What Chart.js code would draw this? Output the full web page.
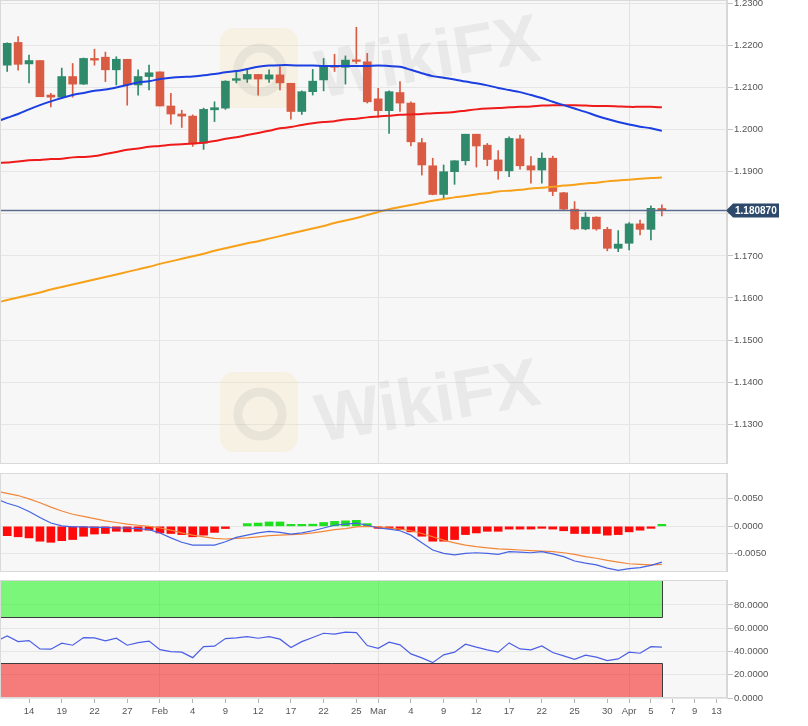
<!DOCTYPE html>
<html>
<head>
<meta charset="utf-8">
<script src="https://cdn.jsdelivr.net/npm/chart.js@4.4.0/dist/chart.umd.min.js"></script>
<style>
  body { margin: 0; background: #fff; width: 808px; height: 726px; overflow: hidden; position: relative; }
  canvas { position: absolute; left: 0; }
</style>
</head>
<body>
<canvas id="precio" width="808" height="464" style="top:0"></canvas>
<canvas id="macd" width="808" height="99" style="top:473px"></canvas>
<canvas id="rsi" width="808" height="146" style="top:580px"></canvas>
<script>
// dias de mercado (EUR/USD diario), los ultimos sin datos todavia
const fechas = ['Jan 11','Jan 12','Jan 13','Jan 14','Jan 15','Jan 18','Jan 19','Jan 20','Jan 21','Jan 22','Jan 25','Jan 26','Jan 27','Jan 28','Jan 29',
  'Feb 1','Feb 2','Feb 3','Feb 4','Feb 5','Feb 8','Feb 9','Feb 10','Feb 11','Feb 12','Feb 15','Feb 16','Feb 17','Feb 18','Feb 19','Feb 22','Feb 23','Feb 24','Feb 25','Feb 26',
  'Mar 1','Mar 2','Mar 3','Mar 4','Mar 5','Mar 8','Mar 9','Mar 10','Mar 11','Mar 12','Mar 15','Mar 16','Mar 17','Mar 18','Mar 19','Mar 22','Mar 23','Mar 24','Mar 25','Mar 26','Mar 29','Mar 30','Mar 31',
  'Apr 1','Apr 2','Apr 5','Apr 6','Apr 7','Apr 8','Apr 9','Apr 12','Apr 13','Apr 14'];

const apertura = [null,1.2153,1.2207,1.2156,1.2164,1.2082,1.2077,1.2126,1.2108,1.2169,1.2172,1.2142,1.2167,1.2106,1.2126,1.2137,1.2056,1.2037,1.2032,1.1968,1.2047,1.2051,1.2117,1.2120,1.2131,1.2120,1.2130,1.2110,1.2043,1.2090,1.2118,1.2151,1.2148,1.2165,1.2161,1.2073,1.2045,1.2088,1.2063,1.1969,1.1914,1.1846,1.1900,1.1926,1.1989,1.1963,1.1928,1.1902,1.1978,1.1914,1.1904,1.1932,1.1850,1.1811,1.1764,1.1792,1.1763,1.1718,1.1730,1.1776,1.1763,1.1812];
const maximo = [null,1.2206,1.2221,1.2177,1.2164,1.2086,1.2146,1.2157,1.2170,1.2191,1.2184,1.2173,1.2167,1.2142,1.2153,1.2137,1.2086,1.2046,1.2035,1.2051,1.2066,1.2116,1.2138,1.2142,1.2131,1.2142,1.2149,1.2110,1.2092,1.2143,1.2169,1.2179,1.2175,1.2243,1.2181,1.2098,1.2092,1.2114,1.2066,1.1979,1.1932,1.1916,1.1926,1.1989,1.1989,1.1967,1.1950,1.1983,1.1987,1.1936,1.1945,1.1937,1.1851,1.1829,1.1803,1.1793,1.1768,1.1760,1.1779,1.1785,1.1819,1.1821];
const minimo = [null,1.2138,1.2141,1.2111,1.2078,1.2054,1.2075,1.2077,1.2107,1.2153,1.2114,1.2106,1.2058,1.2082,1.2094,1.2056,1.2013,1.2005,1.1960,1.1953,1.2019,1.2048,1.2111,1.2112,1.2082,1.2112,1.2094,1.2025,1.2036,1.2082,1.2092,1.2138,1.2108,1.2157,1.2063,1.2029,1.1991,1.2043,1.1961,1.1892,1.1845,1.1835,1.1870,1.1916,1.1911,1.1914,1.1882,1.1888,1.1906,1.1873,1.1873,1.1843,1.1810,1.1762,1.1762,1.1761,1.1712,1.1710,1.1714,1.1750,1.1738,1.1795];
const cierre = [null,1.2205,1.2155,1.2164,1.2078,1.2077,1.2126,1.2108,1.2169,1.2165,1.2142,1.2167,1.2106,1.2126,1.2135,1.2056,1.2037,1.2032,1.1966,1.2048,1.2052,1.2115,1.2121,1.2131,1.2120,1.2130,1.2111,1.2043,1.2090,1.2115,1.2151,1.2148,1.2165,1.2162,1.2066,1.2045,1.2090,1.2063,1.1971,1.1916,1.1846,1.1900,1.1926,1.1989,1.1961,1.1929,1.1902,1.1979,1.1914,1.1904,1.1932,1.1853,1.1811,1.1764,1.1792,1.1764,1.1718,1.1728,1.1776,1.1763,1.1813,1.1809];

// medias moviles
const media50 = [1.2019,1.2028,1.2037,1.2048,1.2058,1.2067,1.2075,1.2082,1.2087,1.2092,1.2095,1.2100,1.2106,1.2112,1.2115,1.2120,1.2123,1.2125,1.2126,1.2129,1.2132,1.2136,1.2139,1.2144,1.2149,1.2152,1.2153,1.2153,1.2152,1.2152,1.2151,1.2151,1.2151,1.2151,1.2151,1.2152,1.2151,1.2149,1.2142,1.2134,1.2127,1.2123,1.2119,1.2114,1.2110,1.2105,1.2099,1.2094,1.2089,1.2082,1.2075,1.2066,1.2058,1.2050,1.2042,1.2033,1.2025,1.2018,1.2012,1.2007,1.2003,1.1997];
const media100 = [1.1920,1.1922,1.1924,1.1927,1.1928,1.1930,1.1931,1.1934,1.1935,1.1937,1.1942,1.1947,1.1952,1.1955,1.1959,1.1961,1.1964,1.1965,1.1967,1.1969,1.1973,1.1978,1.1982,1.1987,1.1992,1.1997,1.2003,1.2006,1.2011,1.2015,1.2018,1.2020,1.2024,1.2026,1.2029,1.2031,1.2033,1.2035,1.2036,1.2037,1.2039,1.2040,1.2042,1.2045,1.2048,1.2050,1.2051,1.2053,1.2054,1.2055,1.2057,1.2058,1.2058,1.2058,1.2057,1.2056,1.2056,1.2055,1.2054,1.2054,1.2054,1.2053];
const media200 = [1.1589,1.1595,1.1601,1.1607,1.1613,1.1620,1.1626,1.1632,1.1638,1.1644,1.1650,1.1656,1.1662,1.1668,1.1674,1.1681,1.1687,1.1693,1.1699,1.1705,1.1712,1.1718,1.1724,1.1730,1.1735,1.1741,1.1747,1.1753,1.1759,1.1765,1.1771,1.1778,1.1784,1.1790,1.1797,1.1804,1.1811,1.1816,1.1821,1.1826,1.1831,1.1835,1.1839,1.1842,1.1846,1.1849,1.1853,1.1855,1.1857,1.1860,1.1862,1.1864,1.1867,1.1869,1.1872,1.1874,1.1877,1.1879,1.1881,1.1883,1.1885,1.1886];
const precioActual = 1.180870;

// MACD
const lineaMacd = [0.0050,0.0042,0.0036,0.0027,0.0016,0.0006,0.0001,-0.0001,-0.0001,-0.0002,-0.0002,-0.0003,-0.0003,-0.0004,-0.0006,-0.0012,-0.0021,-0.0029,-0.0034,-0.0034,-0.0034,-0.0028,-0.0020,-0.0016,-0.0012,-0.0009,-0.0011,-0.0014,-0.0012,-0.0008,-0.0003,0.0002,0.0004,0.0006,0.0002,-0.0003,-0.0005,-0.0008,-0.0016,-0.0030,-0.0043,-0.0049,-0.0052,-0.0049,-0.0048,-0.0049,-0.0051,-0.0046,-0.0047,-0.0048,-0.0046,-0.0050,-0.0055,-0.0063,-0.0067,-0.0070,-0.0076,-0.0080,-0.0077,-0.0075,-0.0071,-0.0065];
const lineaSenal = [0.0064,0.0060,0.0056,0.0050,0.0043,0.0035,0.0028,0.0022,0.0018,0.0014,0.0010,0.0007,0.0004,0.0002,0.0000,-0.0003,-0.0007,-0.0012,-0.0016,-0.0019,-0.0022,-0.0023,-0.0022,-0.0021,-0.0019,-0.0017,-0.0016,-0.0015,-0.0014,-0.0012,-0.0009,-0.0006,-0.0004,-0.0001,0.0000,-0.0001,-0.0003,-0.0005,-0.0008,-0.0013,-0.0019,-0.0025,-0.0030,-0.0034,-0.0037,-0.0039,-0.0041,-0.0042,-0.0043,-0.0044,-0.0045,-0.0046,-0.0048,-0.0051,-0.0055,-0.0058,-0.0062,-0.0065,-0.0068,-0.0069,-0.0070,-0.0069];
const histograma = [null,-0.0017,-0.0019,-0.0021,-0.0027,-0.0029,-0.0026,-0.0024,-0.0018,-0.0014,-0.0013,-0.0009,-0.0010,-0.0009,-0.0007,-0.0012,-0.0013,-0.0015,-0.0019,-0.0016,-0.0011,-0.0004,0.0000,0.0005,0.0006,0.0008,0.0008,0.0002,0.0002,0.0004,0.0007,0.0009,0.0010,0.0011,0.0005,-0.0002,-0.0003,-0.0006,-0.0010,-0.0018,-0.0027,-0.0027,-0.0024,-0.0015,-0.0012,-0.0009,-0.0009,-0.0005,-0.0005,-0.0005,-0.0002,-0.0005,-0.0008,-0.0013,-0.0013,-0.0013,-0.0016,-0.0015,-0.0010,-0.0007,-0.0001,0.0003];

// RSI
const rsi = [49.0,53.4,48.5,49.4,42.2,42.0,47.2,45.4,52.0,51.7,49.1,51.4,45.4,47.7,48.9,41.6,39.9,39.4,34.7,44.2,44.6,51.1,51.7,52.8,51.4,52.8,50.6,43.4,48.5,52.0,55.7,54.9,56.6,56.3,45.1,42.8,48.0,45.7,37.9,34.5,30.4,37.1,39.4,46.3,43.7,41.4,39.4,47.4,42.2,41.4,44.8,39.1,36.2,33.3,36.8,35.1,32.2,33.6,39.4,38.5,44.2,43.7];
const sobrecompra = 70;
const sobreventa = 30;

// etiquetas del eje x
const tickIdx = [3,6,9,12,15,18,21,24,27,30,33,35,38,41,44,47,50,53,56,58,60,62,64,66];
const tickTexto = ['14','19','22','27','Feb','4','9','12','17','22','25','Mar','4','9','12','17','22','25','30','Apr','5','7','9','13'];
const inicioMes = [15,35,58];
const ticksPrecio = [1.13,1.14,1.15,1.16,1.17,1.18,1.19,1.20,1.21,1.22,1.23];
const ticksMacd = [-0.005,0,0.005];
const ticksRsi = [0,20,40,60,80];

const VERDE = '#2f8a6b', ROJO = '#d95b43';
const fuente = '"Liberation Sans", Arial, sans-serif';
Chart.defaults.font.family = fuente;
Chart.defaults.font.size = 9.5;
Chart.defaults.color = '#555';

const ultimo = apertura.length - 1;
const puntos = arr => arr.map((v, i) => ({ x: i, y: v })).filter(p => p.y !== null);

function ejeX(conTexto) {
  return {
    type: 'linear', min: 0.34, max: 66.97, offset: false,
    afterBuildTicks: s => { s.ticks = tickIdx.map(v => ({ value: v })); },
    afterFit: s => { s.height = conTexto ? 28 : 0; s.paddingLeft = 0; s.paddingRight = 0; },
    grid: {
      offset: false,
      color: c => (c.tick && inicioMes.includes(c.tick.value)) ? '#e2e2e2' : 'rgba(0,0,0,0)',
      drawTicks: conTexto, tickLength: 5, tickColor: '#b5b5b5'
    },
    border: { display: false },
    ticks: {
      display: conTexto, autoSkip: false, maxRotation: 0, padding: 3, color: '#555',
      callback: v => tickTexto[tickIdx.indexOf(v)]
    }
  };
}

function ejeY(min, max, lista, decimales) {
  return {
    position: 'right', min: min, max: max, beginAtZero: false,
    afterBuildTicks: s => { s.ticks = lista.map(v => ({ value: v })); },
    afterFit: s => { s.width = 81; s.paddingTop = 0; s.paddingBottom = 0; },
    grid: { color: '#e6e6e6', tickLength: 6, tickColor: '#c4c4c4' },
    border: { color: '#d6d6d6' },
    ticks: { padding: 1, color: '#555', callback: v => Number(v).toFixed(decimales) }
  };
}

const fondoPanel = {
  id: 'fondoPanel',
  beforeDraw(chart) {
    const { ctx, chartArea: a } = chart;
    ctx.save();
    ctx.fillStyle = '#f7f7f7';
    ctx.fillRect(a.left, a.top, a.right - a.left, a.bottom - a.top);
    ctx.restore();
  },
  afterDraw(chart) {
    const { ctx, chartArea: a } = chart;
    ctx.save();
    ctx.strokeStyle = '#dadada';
    ctx.lineWidth = 1;
    ctx.strokeRect(a.left + 0.5, a.top + 0.5, a.right - a.left - 1, a.bottom - a.top - 1);
    ctx.restore();
  }
};

function marcaAgua(ctx, x, y) {
  ctx.save();
  ctx.fillStyle = 'rgba(246,222,160,0.22)';
  ctx.beginPath();
  ctx.roundRect(x, y, 78, 80, 14);
  ctx.fill();
  ctx.strokeStyle = 'rgba(150,150,150,0.14)';
  ctx.lineWidth = 9;
  ctx.beginPath();
  ctx.arc(x + 40, y + 42, 22, 0, Math.PI * 2);
  ctx.stroke();
  ctx.translate(x + 100, y + 70);
  ctx.rotate(-0.17);
  ctx.font = 'bold 68px ' + fuente;
  ctx.fillStyle = 'rgba(140,140,140,0.13)';
  ctx.fillText('WikiFX', 0, 0);
  ctx.restore();
}

const lineaPrecio = {
  id: 'lineaPrecio',
  beforeDatasetsDraw(chart) {
    marcaAgua(chart.ctx, 220, 28);
    marcaAgua(chart.ctx, 220, 372);
  },
  afterDatasetsDraw(chart) {
    const { ctx, chartArea: a, scales: { y } } = chart;
    const py = Math.round(y.getPixelForValue(precioActual)) + 0.5;
    ctx.save();
    ctx.strokeStyle = '#5c6c8c';
    ctx.lineWidth = 1.5;
    ctx.beginPath();
    ctx.moveTo(a.left, py);
    ctx.lineTo(a.right, py);
    ctx.stroke();
    ctx.restore();
  },
  afterDraw(chart) {
    const { ctx, chartArea: a, scales: { y } } = chart;
    const py = Math.round(y.getPixelForValue(precioActual)) + 0.5;
    ctx.save();
    ctx.fillStyle = '#2d4a6d';
    ctx.beginPath();
    ctx.moveTo(a.right - 1, py);
    ctx.lineTo(a.right + 6, py - 7);
    ctx.lineTo(a.right + 52, py - 7);
    ctx.lineTo(a.right + 52, py + 7);
    ctx.lineTo(a.right + 6, py + 7);
    ctx.closePath();
    ctx.fill();
    ctx.fillStyle = '#fff';
    ctx.font = 'bold 10px ' + fuente;
    ctx.textBaseline = 'middle';
    ctx.fillText(precioActual.toFixed(6), a.right + 8, py + 0.5);
    ctx.restore();
  }
};

const bandas = {
  id: 'bandas',
  beforeDatasetsDraw(chart) {
    const { ctx, chartArea: a, scales: { x, y } } = chart;
    const x1 = Math.round(x.getPixelForValue(ultimo)) + 0.5;
    const y70 = Math.round(y.getPixelForValue(sobrecompra)) + 0.5;
    const y30 = Math.round(y.getPixelForValue(sobreventa)) + 0.5;
    ctx.save();
    ctx.fillStyle = 'rgba(0,245,0,0.5)';
    ctx.fillRect(a.left, a.top, x1 - a.left, y70 - a.top);
    ctx.fillStyle = 'rgba(245,0,0,0.5)';
    ctx.fillRect(a.left, y30, x1 - a.left, a.bottom - y30);
    ctx.strokeStyle = '#3c3c3c';
    ctx.lineWidth = 1;
    ctx.beginPath();
    ctx.moveTo(a.left, y70); ctx.lineTo(x1, y70); ctx.lineTo(x1, a.top);
    ctx.moveTo(a.left, y30); ctx.lineTo(x1, y30); ctx.lineTo(x1, a.bottom);
    ctx.stroke();
    ctx.restore();
  }
};

const comunes = {
  responsive: false, animation: false, devicePixelRatio: 1, events: [],
  layout: { padding: 0 },
  plugins: { legend: { display: false }, tooltip: { enabled: false } }
};

const colorVela = i => cierre[i] >= apertura[i] ? VERDE : ROJO;
const velas = apertura.map((o, i) => i).filter(i => apertura[i] !== null);

new Chart(document.getElementById('precio'), {
  type: 'bar',
  data: {
    datasets: [
      { type: 'line', data: puntos(media50), borderColor: '#1b3fe0', borderWidth: 2, pointRadius: 0, tension: 0.3, order: 0 },
      { type: 'line', data: puntos(media100), borderColor: '#ef1a1a', borderWidth: 2, pointRadius: 0, tension: 0.3, order: 0 },
      { type: 'line', data: puntos(media200), borderColor: '#f7a019', borderWidth: 2, pointRadius: 0, tension: 0.3, order: 0 },
      { data: velas.map(i => ({ x: i, y: [apertura[i], cierre[i]] })), backgroundColor: velas.map(colorVela),
        barThickness: 8, grouped: false, minBarLength: 1.5, order: 1 },
      { data: velas.map(i => ({ x: i, y: [minimo[i], maximo[i]] })), backgroundColor: velas.map(colorVela),
        barThickness: 1, grouped: false, order: 2 }
    ]
  },
  options: Object.assign({}, comunes, {
    scales: { x: ejeX(false), y: ejeY(1.12057, 1.23078, ticksPrecio, 4) }
  }),
  plugins: [fondoPanel, lineaPrecio]
});

new Chart(document.getElementById('macd'), {
  type: 'bar',
  data: {
    datasets: [
      { type: 'line', data: puntos(lineaMacd), borderColor: '#4563e4', borderWidth: 1.2, pointRadius: 0, order: 0 },
      { type: 'line', data: puntos(lineaSenal), borderColor: '#f2873a', borderWidth: 1.2, pointRadius: 0, order: 0 },
      { data: puntos(histograma), barThickness: 8, minBarLength: 2, order: 1,
        backgroundColor: histograma.filter(v => v !== null).map(v => v > 0 ? '#1fe01f' : (v < 0 ? '#ff0a0a' : 'rgba(0,0,0,0)')) }
    ]
  },
  options: Object.assign({}, comunes, {
    scales: { x: ejeX(false), y: ejeY(-0.0083, 0.0097, ticksMacd, 4) }
  }),
  plugins: [fondoPanel]
});

new Chart(document.getElementById('rsi'), {
  type: 'line',
  data: {
    datasets: [
      { data: puntos(rsi), borderColor: '#4b5ee6', borderWidth: 1.2, pointRadius: 0 }
    ]
  },
  options: Object.assign({}, comunes, {
    scales: { x: ejeX(true), y: ejeY(0, 101.5, ticksRsi, 4) }
  }),
  plugins: [fondoPanel, bandas]
});
</script>
</body>
</html>
